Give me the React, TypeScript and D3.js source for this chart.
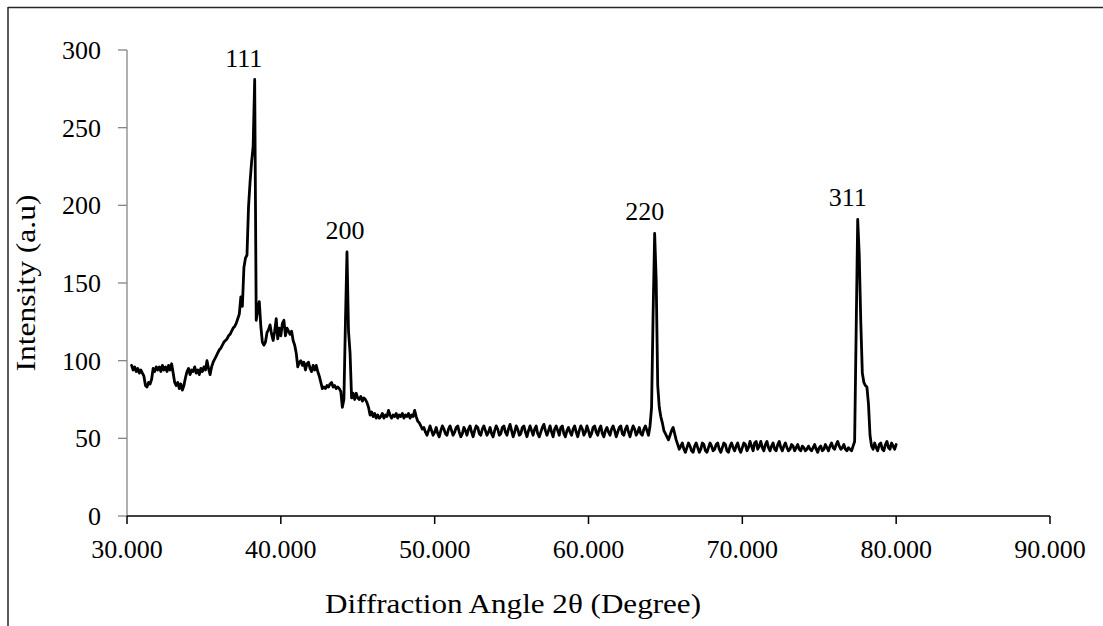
import React from "react";
import * as d3 from "d3";

// ---- Data (intensity sampled every 0.1° starting at 30.3°) ----
const ANGLE_START = 30.3;
const ANGLE_STEP = 0.1;

const seg30to49 = [
  97, 94, 96, 93, 95, 92, 94, 92, 90, 84,
  83, 86, 85, 88, 95, 93, 96, 94, 96, 93,
  97, 94, 96, 93, 97, 94, 98, 92, 86, 84,
  86, 82, 85, 81, 84, 89, 93, 95, 91, 94,
  93, 96, 92, 94, 91, 95, 93, 96, 94, 100,
  95, 91, 96, 99, 101, 103, 105, 107, 108, 110,
  112, 113, 114, 116, 117, 119, 121, 122, 124, 127,
  130, 141, 135, 160, 166, 168, 199, 215, 228, 238,
  281, 126, 133, 138, 122, 112, 110, 112, 118, 120,
  123, 117, 113, 119, 127, 114, 121, 116, 124, 126,
  116, 121, 119, 117, 119, 113, 110, 105, 96, 99,
  100, 97, 99, 94, 98, 99, 95, 93, 97, 94,
  97, 93, 90, 86, 82, 83, 82, 84, 83, 85,
  86, 83, 84, 82, 83, 82, 80, 70, 75, 125,
  170, 119, 105, 76, 79, 75, 79, 76, 75, 77,
  74, 76, 75, 73, 70, 65, 67, 64, 66, 63,
  65, 63, 64, 66, 63, 65, 64, 68, 65, 63,
  65, 64, 66, 63, 65, 64, 66, 63, 65, 64,
  66, 63, 65, 64, 68, 64, 61, 60, 58, 56,
];

const seg49to64 = [
  57, 54, 52, 55, 58, 55, 52, 54, 57, 53,
  51, 55, 58, 56, 53, 52, 56, 58, 55, 52,
  54, 57, 58, 54, 51, 53, 57, 55, 52, 56,
  58, 54, 51, 55, 58, 57, 53, 52, 56, 58,
  55, 52, 54, 57, 53, 51, 55, 58, 56, 52,
  53, 57, 58, 54, 52, 56, 59, 55, 51, 54,
  58, 56, 52, 53, 57, 58, 54, 51, 55, 58,
  55, 52, 56, 58, 53, 51, 54, 57, 59, 55,
  52, 55, 58, 54, 51, 56, 58, 55, 52, 57,
  58, 53, 51, 55, 57, 54, 52, 56, 58, 54,
  51, 55, 58, 56, 52, 54, 58, 55, 51, 53,
  57, 58, 54, 52, 56, 58, 53, 51, 55, 57,
  54, 52, 56, 58, 55, 51, 54, 57, 58, 53,
  52, 56, 58, 54, 51, 55, 58, 56, 52, 54,
  57, 53, 52, 56, 58, 55, 52, 58, 70, 130,
];

const seg64to66 = [
  182, 152, 84, 70, 64, 60, 55, 53, 51, 49,
  52, 55, 57, 53, 49, 46, 43, 45, 47, 43,
];

const seg66to77 = [
  41, 44, 47, 45, 42, 41, 45, 47, 44, 41,
  43, 47, 46, 42, 41, 44, 47, 45, 42, 43,
  46, 47, 43, 41, 44, 47, 46, 42, 41, 45,
  47, 44, 42, 45, 47, 43, 41, 44, 47, 46,
  42, 44, 48, 45, 42, 47, 48, 43, 45, 48,
  44, 42, 46, 48, 44, 42, 45, 47, 43, 42,
  46, 48, 44, 42, 45, 47, 44, 42, 43, 46,
  45, 42, 44, 46, 43, 42, 45, 44, 42, 43,
  45, 43, 42, 44, 46, 43, 41, 44, 45, 42,
  43, 46, 44, 42, 45, 47, 44, 43, 46, 48,
  45, 43, 44, 46, 43, 42, 44, 43, 42, 45,
];

const seg77to80 = [
  48, 120, 191, 168, 125, 92, 86, 84, 83, 72,
  52, 45, 43, 47, 44, 42, 46, 47, 43, 42,
  46, 48, 44, 43, 47, 45, 43, 46,
];

const intensities = [...seg30to49, ...seg49to64, ...seg64to66, ...seg66to77, ...seg77to80];
const points: [number, number][] = intensities.map((v, i) => [ANGLE_START + i * ANGLE_STEP, v]);

const xTicks = [30, 40, 50, 60, 70, 80, 90];
const yTicks = [0, 50, 100, 150, 200, 250, 300];

const peakNames = ["111", "200", "220", "311"];
const peakAngles = [38.3, 44.3, 64.3, 77.5];
const peakValues = [281, 170, 182, 191];

const FONT = "'Liberation Serif', 'Times New Roman', serif";

export default function App() {
  const W = 1103;
  const H = 626;
  const x = d3.scaleLinear().domain([30, 90]).range([127, 1050]);
  const y = d3.scaleLinear().domain([0, 300]).range([516, 50]);
  const line = d3
    .line<[number, number]>()
    .x((d) => x(d[0]))
    .y((d) => y(d[1]));
  const fmt = d3.format(".3f");
  const labelDx = [-11, -2, -10, -10];
  const fs = 26;
  const titleFs = 28;

  return (
    <svg
      width={W}
      height={H}
      style={{ position: "absolute", left: 0, top: 0, background: "#fff" }}
      fontFamily={FONT}
    >
      <rect x={0} y={0} width={W} height={H} fill="#fff" />
      {/* outer frame (left and top) */}
      <line x1={8} y1={7.5} x2={W} y2={7.5} stroke="#262626" strokeWidth={1.5} />
      <line x1={8} y1={7} x2={8} y2={H} stroke="#262626" strokeWidth={1.5} />

      {/* y axis */}
      <line x1={127} y1={y(300)} x2={127} y2={y(0)} stroke="#868686" strokeWidth={1.3} />
      {yTicks.map((t) => (
        <g key={t}>
          <line x1={118} x2={127} y1={y(t)} y2={y(t)} stroke="#868686" strokeWidth={1.3} />
          <text x={101} y={y(t)} dy="0.34em" textAnchor="end" fontSize={fs} fill="#000">
            {t}
          </text>
        </g>
      ))}

      {/* x axis */}
      <line x1={x(30)} y1={y(0)} x2={x(90)} y2={y(0)} stroke="#000" strokeWidth={1.5} />
      {xTicks.map((t) => (
        <g key={t}>
          <line x1={x(t)} x2={x(t)} y1={y(0)} y2={y(0) + 8} stroke="#000" strokeWidth={1.5} />
          <text x={x(t)} y={558} textAnchor="middle" fontSize={fs} fill="#000">
            {fmt(t)}
          </text>
        </g>
      ))}

      {/* data line */}
      <path
        d={line(points) || ""}
        fill="none"
        stroke="#000"
        strokeWidth={2.8}
        strokeLinejoin="round"
        strokeLinecap="round"
      />

      {/* peak labels */}
      {peakNames.map((name, i) => (
        <text
          key={name}
          x={x(peakAngles[i]) + labelDx[i]}
          y={y(peakValues[i]) - 13}
          textAnchor="middle"
          fontSize={fs}
          fill="#000"
        >
          {name}
        </text>
      ))}

      {/* axis titles */}
      <text
        x={513}
        y={613}
        textAnchor="middle"
        fontSize={titleFs}
        fill="#000"
        textLength={376}
        lengthAdjust="spacingAndGlyphs"
      >
        Diffraction Angle 2θ (Degree)
      </text>
      <text
        transform={`translate(35, ${y(150)}) rotate(-90)`}
        textAnchor="middle"
        fontSize={titleFs}
        fill="#000"
        textLength={177}
        lengthAdjust="spacingAndGlyphs"
      >
        Intensity (a.u)
      </text>
    </svg>
  );
}
